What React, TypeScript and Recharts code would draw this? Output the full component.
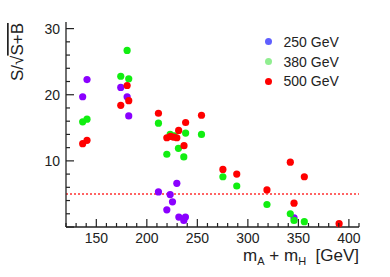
import React from 'react';
import { ScatterChart, Scatter, XAxis, YAxis, ReferenceLine } from 'recharts';

// x = mA + mH [GeV], y = S/sqrt(S+B)
const mass250 = [136.5, 140.8, 174.2, 180.5, 182.1, 211.5, 219.8, 223.1, 225.4, 229.7, 231.7, 236.6, 238.2, 345.7];
const signif250 = [19.7, 22.3, 21.1, 19.7, 16.8, 5.3, 2.6, 4.9, 3.8, 6.6, 1.5, 1.0, 1.5, 1.4];

const mass380 = [136.5, 140.8, 174.2, 180.5, 182.1, 211.5, 219.8, 223.1, 227.0, 231.3, 236.6, 238.4, 254.1, 275.3, 289.0, 318.9, 342.0, 345.7, 355.9];
const signif380 = [15.9, 16.3, 22.8, 26.7, 22.4, 15.7, 11.0, 14.0, 13.8, 11.9, 10.6, 14.2, 14.0, 7.6, 6.2, 3.4, 2.0, 1.0, 0.8];

const mass500 = [136.5, 140.8, 174.2, 180.5, 182.1, 211.5, 219.8, 223.4, 226.3, 229.7, 231.5, 236.8, 238.4, 254.1, 275.3, 289.0, 318.9, 342.0, 345.7, 355.9, 390.3];
const signif500 = [12.6, 13.1, 18.4, 21.4, 19.1, 17.2, 13.5, 13.7, 13.6, 13.5, 14.6, 12.3, 15.8, 16.9, 8.7, 8.0, 5.6, 9.8, 3.6, 7.6, 0.5];

const xTicks = [120, 130, 140, 150, 160, 170, 180, 190, 200, 210, 220, 230, 240, 250, 260, 270, 280, 290, 300, 310, 320, 330, 340, 350, 360, 370, 380, 390, 400, 410];
const yTicks = [0, 2, 4, 6, 8, 10, 12, 14, 16, 18, 20, 22, 24, 26, 28, 30];
const threshold = 5;

const legendItems = [
    { name: '250 GeV', color: '#5f5fff' },
    { name: '380 GeV', color: '#90ee90' },
    { name: '500 GeV', color: '#ff0000' },
];

const toPoints = (xs: number[], ys: number[]) => xs.map((x, i) => ({ x, y: ys[i] }));

const font = '"Liberation Sans", Arial, sans-serif';
const ink = '#222';

const dot = (color: string) => (p: any) => <circle cx={p.cx} cy={p.cy} r={3.6} fill={color} />;

const BottomTick = (p: any) => {
    const v = p.payload.value;
    const major = v % 50 === 0;
    return (
        <g>
            <line x1={p.x} x2={p.x} y1={p.y} y2={p.y - (major ? 8 : 4)} stroke={ink} strokeWidth={1.2} />
            {major && (
                <text x={p.x} y={p.y + 16} textAnchor="middle" fontSize={14} fontFamily={font} fill={ink}>{v}</text>
            )}
        </g>
    );
};

const TopTick = (p: any) => {
    const major = p.payload.value % 50 === 0;
    return <line x1={p.x} x2={p.x} y1={p.y} y2={p.y + (major ? 8 : 4)} stroke={ink} strokeWidth={1.2} />;
};

const LeftTick = (p: any) => {
    const v = p.payload.value;
    const major = v % 10 === 0;
    return (
        <g>
            <line x1={p.x} x2={p.x + (major ? 8 : 4)} y1={p.y} y2={p.y} stroke={ink} strokeWidth={1.2} />
            {major && v > 0 && (
                <text x={p.x - 6} y={p.y + 5} textAnchor="end" fontSize={14} fontFamily={font} fill={ink}>{v}</text>
            )}
        </g>
    );
};

const RightTick = (p: any) => {
    const major = p.payload.value % 10 === 0;
    return <line x1={p.x} x2={p.x - (major ? 8 : 4)} y1={p.y} y2={p.y} stroke={ink} strokeWidth={1.2} />;
};

const YLabel = () => (
    <g transform="translate(23,52) rotate(-90)">
        <text x={0} y={0} textAnchor="middle" fontSize={17} fontFamily={font} fill={ink}>
            S/√<tspan textDecoration="overline">S+B</tspan>
        </text>
    </g>
);

const XLabel = () => (
    <text x={359} y={261} textAnchor="end" fontSize={17} fontFamily={font} fill={ink} style={{ whiteSpace: 'pre' }}>
        m<tspan dy={4} fontSize={11}>A</tspan>
        <tspan dy={-4}> + m</tspan>
        <tspan dy={4} fontSize={11}>H</tspan>
        <tspan dy={-4}>  [GeV]</tspan>
    </text>
);

export default function App() {
    const axisLine = { stroke: ink, strokeWidth: 1.3 };
    return (
        <div style={{ position: 'relative', width: 390, height: 277, background: '#fff' }}>
            <style>{'body{margin:0}'}</style>
            <ScatterChart width={390} height={277} margin={{ top: 22, right: 31, bottom: 0, left: 0 }}>
                <XAxis type="number" dataKey="x" domain={[120, 410]} ticks={xTicks} interval={0} height={50}
                    tickSize={0} tickMargin={0} tickLine={false} axisLine={axisLine} tick={BottomTick}
                    label={{ content: XLabel }} />
                <XAxis xAxisId="top" orientation="top" type="number" dataKey="x" domain={[120, 410]} ticks={xTicks}
                    interval={0} height={0} tickSize={0} tickMargin={0} tickLine={false} axisLine={axisLine} tick={TopTick} />
                <YAxis type="number" dataKey="y" domain={[0, 31]} ticks={yTicks} interval={0} width={66}
                    tickSize={0} tickMargin={0} tickLine={false} axisLine={axisLine} tick={LeftTick}
                    label={{ content: YLabel }} />
                <YAxis yAxisId="right" orientation="right" type="number" dataKey="y" domain={[0, 31]} ticks={yTicks}
                    interval={0} width={0} tickSize={0} tickMargin={0} tickLine={false} axisLine={axisLine} tick={RightTick} />
                <ReferenceLine y={threshold} stroke="#ff3030" strokeWidth={1.5} strokeDasharray="2 2" />
                <Scatter data={toPoints(mass250, signif250)} shape={dot('#8a00ff')} isAnimationActive={false} />
                <Scatter data={toPoints(mass380, signif380)} shape={dot('#11ee11')} isAnimationActive={false} />
                <Scatter data={toPoints(mass500, signif500)} shape={dot('#ff0000')} isAnimationActive={false} />
            </ScatterChart>
            <div style={{ position: 'absolute', left: 262, top: 32, fontFamily: font, fontSize: 14, color: ink }}>
                {legendItems.map((it) => (
                    <div key={it.name} style={{ display: 'flex', alignItems: 'center', height: 19.7 }}>
                        <span style={{ width: 7, height: 7, borderRadius: '50%', background: it.color, marginLeft: 2.5, marginRight: 12 }} />
                        <span>{it.name}</span>
                    </div>
                ))}
            </div>
        </div>
    );
}
